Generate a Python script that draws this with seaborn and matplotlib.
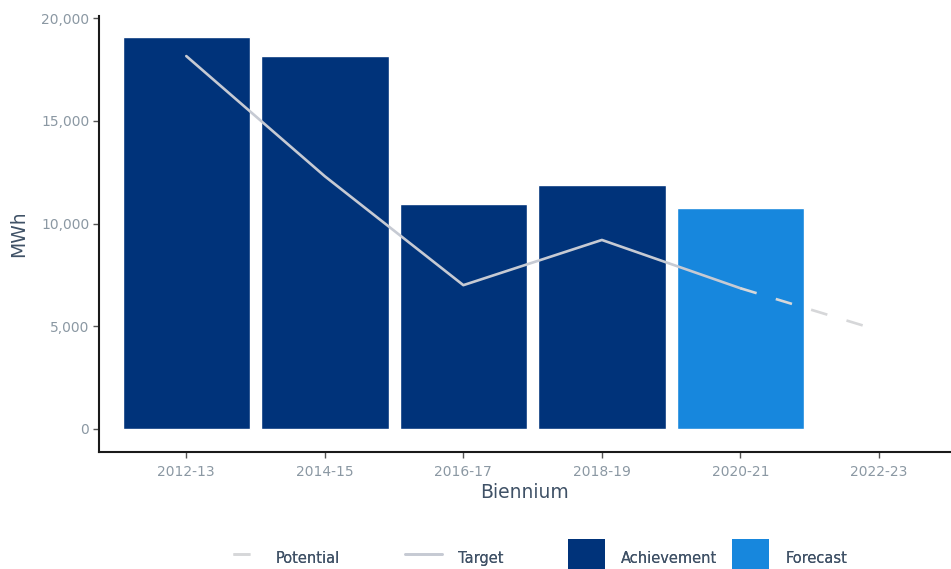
import matplotlib
matplotlib.use("Agg")
import matplotlib.pyplot as plt
from matplotlib.lines import Line2D
from matplotlib.patches import Patch, Rectangle
from matplotlib.legend_handler import HandlerPatch
import seaborn as sns
import pandas as pd

# Energy savings by biennium (MWh)
biennium = ["2012-13", "2014-15", "2016-17", "2018-19", "2020-21", "2022-23"]
bar_biennium = ["2012-13", "2014-15", "2016-17", "2018-19", "2020-21"]
bar_values = [19100, 18150, 10950, 11870, 10750]
bar_kind = ["Achievement", "Achievement", "Achievement", "Achievement", "Forecast"]

target_biennium = ["2012-13", "2014-15", "2016-17", "2018-19", "2020-21"]
target_values = [18150, 12300, 7000, 9200, 6850]

potential_biennium = ["2020-21", "2022-23"]
potential_values = [6850, 4800]

colors = {"Achievement": "#00337a", "Forecast": "#1787dd"}
target_color = "#c6cad3"
potential_color = "#d6d7d9"
tick_color = "#8b98a3"
label_color = "#3f5166"

sns.set_theme(style="white")
plt.rcParams["font.family"] = ["DejaVu Sans"]
plt.rcParams["lines.scale_dashes"] = False

fig = plt.figure(figsize=(9.51, 5.69), dpi=100)
ax = fig.add_axes([99 / 951, 1 - 452 / 569, 1 - 99 / 951, (452 - 16) / 569])

bars = pd.DataFrame({"Biennium": bar_biennium, "MWh": bar_values, "Kind": bar_kind})
sns.barplot(data=bars, x="Biennium", y="MWh", hue="Kind", order=biennium,
            palette=colors, dodge=False, width=0.92, saturation=1,
            legend=False, ax=ax)

pos = {b: i for i, b in enumerate(biennium)}
target = pd.DataFrame({"x": [pos[b] for b in target_biennium], "y": target_values})
potential = pd.DataFrame({"x": [pos[b] for b in potential_biennium], "y": potential_values})

sns.lineplot(data=target, x="x", y="y", color=target_color, lw=1.9, ax=ax)
sns.lineplot(data=potential, x="x", y="y", color=potential_color, lw=1.9,
             linestyle=(0, (12.2, 14.4)), ax=ax)

ax.set_xlim(-0.63, 5.52)
ax.set_ylim(-1120, 20100)
ax.set_xticks(range(len(biennium)))
ax.set_xticklabels(biennium)
ax.set_yticks([0, 5000, 10000, 15000, 20000])
ax.set_yticklabels(["0", "5,000", "10,000", "15,000", "20,000"])

for side in ["top", "right"]:
    ax.spines[side].set_visible(False)
for side in ["left", "bottom"]:
    ax.spines[side].set_color("#1a1a1a")
    ax.spines[side].set_linewidth(1.5)

ax.tick_params(axis="both", which="major", direction="out", length=4, width=1,
               color="#555555", labelcolor=tick_color, labelsize=10, pad=3,
               bottom=True, left=True)
ax.tick_params(axis="x", pad=5)

ax.set_xlabel("Biennium", fontsize=13.5, color=label_color, labelpad=3)
ax.set_ylabel("MWh", fontsize=13.5, color=label_color, labelpad=9)


def tall_box(legend, orig_handle, xdescent, ydescent, width, height, fontsize):
    # Square key that rises a little above the label row
    return Rectangle((-xdescent, -ydescent), width, height + 4.0)


# Legend entries laid out along the bottom edge
entries = [
    (Line2D([0], [0], color=potential_color, lw=1.9, linestyle=(18.7, (12.2, 14.4))), "Potential", 222),
    (Line2D([0], [0], color=target_color, lw=1.9), "Target", 405),
    (Patch(facecolor=colors["Achievement"], edgecolor="none"), "Achievement", 568),
    (Patch(facecolor=colors["Forecast"], edgecolor="none"), "Forecast", 732),
]
fs = 10.5
for handle, text, x in entries:
    leg = fig.legend([handle], [text], loc="center left",
                     bbox_to_anchor=(x / 951, 1 - 559 / 569),
                     frameon=False, fontsize=fs, borderpad=0, borderaxespad=0,
                     handlelength=2.55, handleheight=2.75, handletextpad=1.1,
                     labelcolor=label_color,
                     handler_map={Patch: HandlerPatch(patch_func=tall_box)})
    fig.add_artist(leg)

fig.savefig("out.png", dpi=100)
